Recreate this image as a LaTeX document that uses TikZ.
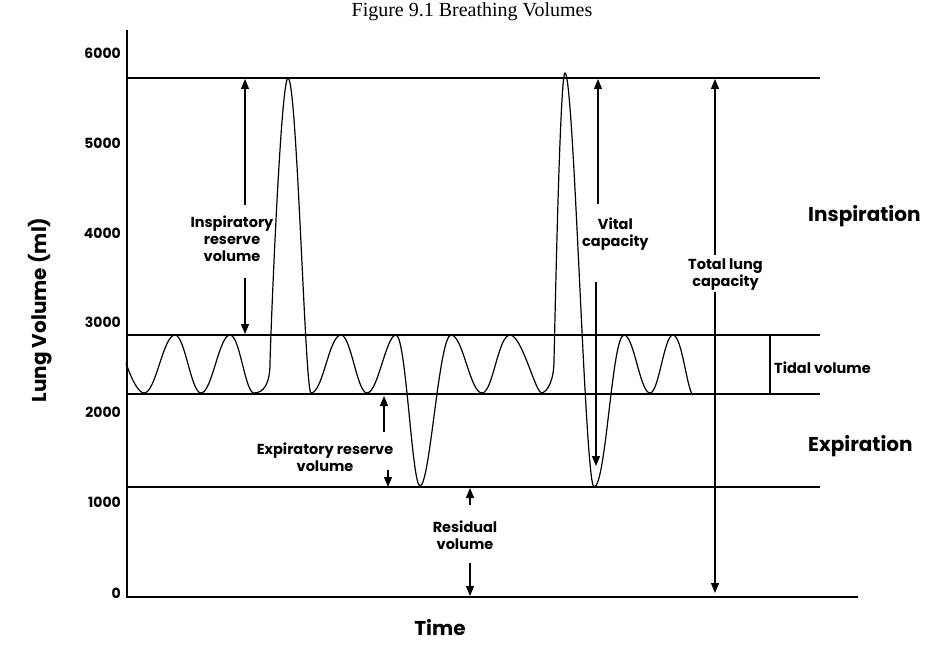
\documentclass[tikz,border=0pt]{standalone}
\usepackage{fontspec}
\setmainfont{Poppins}
\newfontfamily\titlefont{Liberation Serif}
\usetikzlibrary{arrows.meta}
\begin{document}
\begin{tikzpicture}[x=1pt,y=-1pt,
  ln/.style={line width=1.1pt},
  arr/.style={line width=1.1pt,-{Triangle[length=10pt,width=8pt]}},
  lab/.style={font=\fontsize{14.5}{17}\selectfont\bfseries,align=center,inner sep=0pt},
  big/.style={font=\fontsize{20}{22}\selectfont\bfseries,inner sep=0pt,anchor=west},
  tick/.style={font=\fontsize{14}{16}\selectfont\bfseries,anchor=east,inner sep=0pt}]
\useasboundingbox (0,0) rectangle (944,650);
\node (title) at (472,12) {\titlefont\fontsize{20}{22}\selectfont Figure 9.1 Breathing Volumes};
% axes
\coordinate (o) at (127,597);
\coordinate (ytop) at (127,30);
\coordinate (xend) at (858,597);
\draw[ln] (ytop) -- (o) -- (xend);
\foreach \v/\y in {6000/53,5000/143,4000/233,3000/322,2000/412,1000/502,0/593}
  \node[tick] (t\v) at (121,\y) {\v};
\node[rotate=90,font=\fontsize{20}{22}\selectfont\bfseries] (ylab) at (40,310) {Lung Volume (ml)};
\node[font=\fontsize{20}{22}\selectfont\bfseries] (xlab) at (440,628) {Time};
% horizontal lines
\foreach \n/\y in {a/78,b/335,c/394,d/487}{
  \coordinate (L\n) at (127,\y); \coordinate (R\n) at (820,\y);
  \draw[ln] (L\n) -- (R\n);}
% wave
\draw[line width=1.2pt] (126,363) .. controls +(6,18) and +(-5,0) .. (144,393)
 .. controls +(12,0) and +(-12,0) .. (175,335)
 .. controls +(10,0) and +(-10,0) .. (201,393)
 .. controls +(11,0) and +(-11,0) .. (230,335)
 .. controls +(10,0) and +(-9,0) .. (254,393)
 .. controls +(10,0) and +(0,20) .. (270,363)
 .. controls +(1,-40) and +(-7,0) .. (288,78)
 .. controls +(9,0) and +(-6,0) .. (311,393)
 .. controls +(12,0) and +(-12,0) .. (341,335)
 .. controls +(10,0) and +(-10,0) .. (367,393)
 .. controls +(11,0) and +(-10,0) .. (396,335)
 .. controls +(10,0) and +(-8,0) .. (420,486)
 .. controls +(10,0) and +(-12,0) .. (451,335)
 .. controls +(12,0) and +(-12,0) .. (482,393)
 .. controls +(11,0) and +(-12,0) .. (510,335)
 .. controls +(12,0) and +(-6,2) .. (542,393)
 .. controls +(6,-2) and +(0,20) .. (554,360)
 .. controls +(1,-40) and +(-5,0) .. (565,73)
 .. controls +(9,0) and +(-9,0) .. (594,487)
 .. controls +(12,0) and +(-12,0) .. (624,335)
 .. controls +(10,0) and +(-10,0) .. (650,393)
 .. controls +(9,0) and +(-9,0) .. (673,335)
 .. controls +(9,0) and +(-6,-4) .. (693,395);
% IRV
\node[lab] (irv) at (232,239) {Inspiratory\\reserve\\volume};
\coordinate (irvT) at (245,79); \coordinate (irvB) at (245,334);
\draw[arr] (245,205) -- (irvT);
\draw[arr] (245,278) -- (irvB);
% VC
\node[lab,anchor=north west] (vc) at (582,218) {Vital\\capacity};
\coordinate (vcT) at (598,79); \coordinate (vcB) at (596,466);
\draw[arr] (598,204) -- (vcT);
\draw[arr] (596,282) -- (vcB);
% TLC
\node[lab,anchor=north west] (tlc) at (688,259) {Total lung\\capacity};
\coordinate (tlcT) at (715,79); \coordinate (tlcB) at (715,593);
\draw[arr] (715,255) -- (tlcT);
\draw[arr] (715,292) -- (tlcB);
% ERV
\node[lab] (erv) at (325,457) {Expiratory reserve\\volume};
\coordinate (ervT) at (384,396); \coordinate (ervB) at (388,487);
\draw[arr] (384,432) -- (ervT);
\draw[arr] (388,470) -- (ervB);
% RV
\node[lab] (rv) at (465,535) {Residual\\volume};
\coordinate (rvT) at (470,488); \coordinate (rvB) at (470,596);
\draw[arr] (470,505) -- (rvT);
\draw[arr] (470,563) -- (rvB);
% tidal
\coordinate (tvT) at (770,335); \coordinate (tvB) at (770,394);
\draw[ln] (tvT) -- (tvB);
\node[lab,anchor=west] (tv) at (774,368) {Tidal volume};
\node[big] (insp) at (808,216) {Inspiration};
\node[big] (exp) at (808,446) {Expiration};
\end{tikzpicture}
\end{document}
